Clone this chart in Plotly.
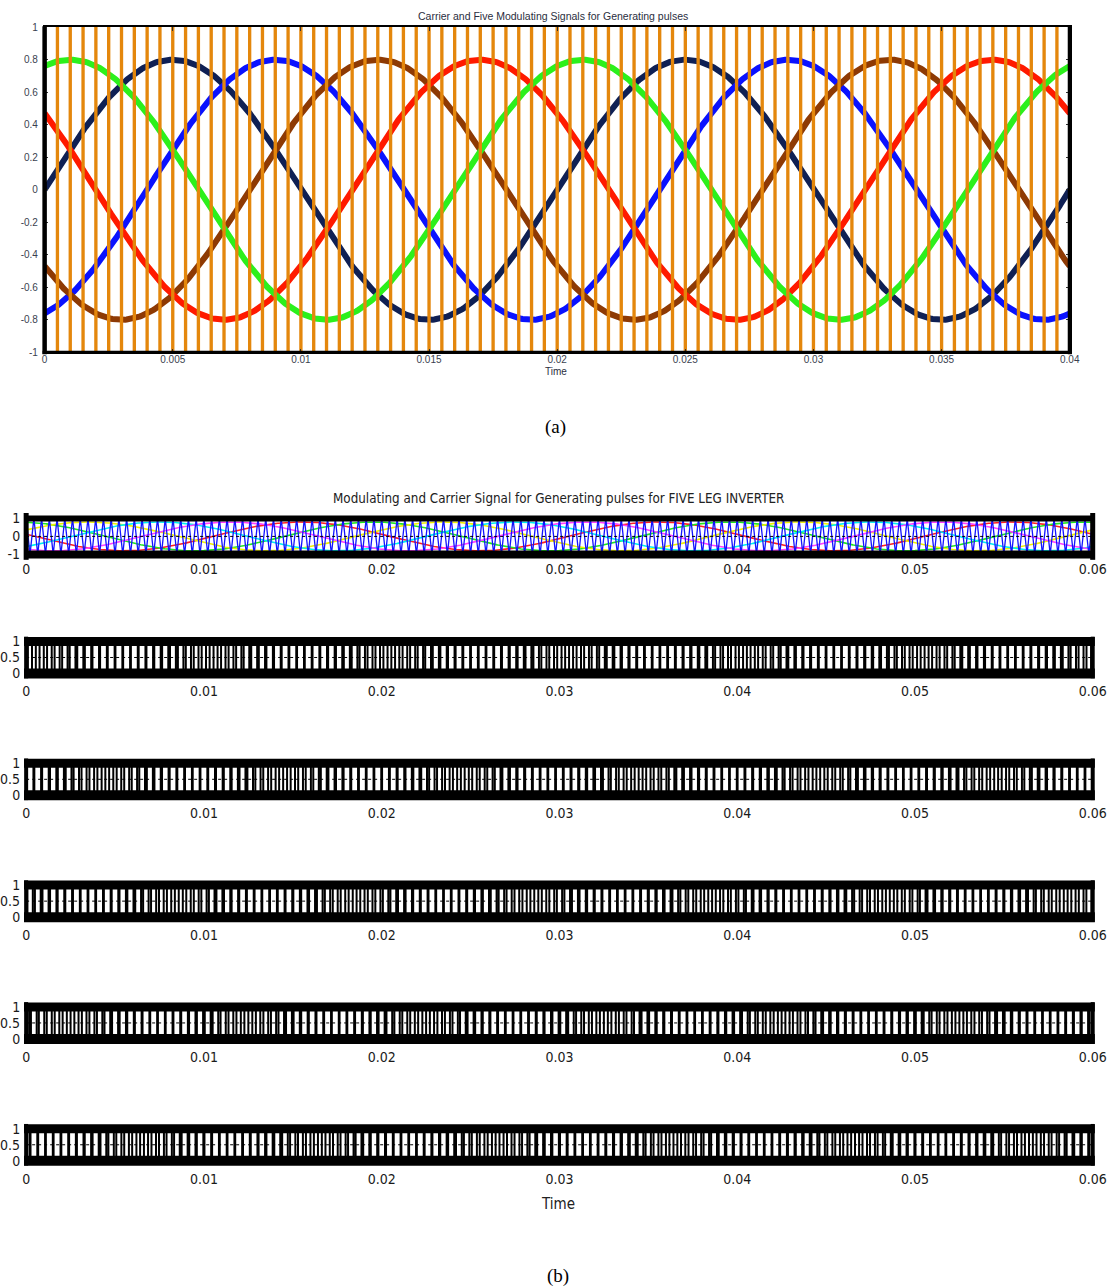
import numpy as np
import plotly.graph_objects as go

# target picture size and observed page->picture scale of the capture
W, H = 1112, 1287
SX, SY = 0.979, 0.987
MARGIN = 8                                  # default body margin of the page
FW = int(round(W / SX)) - 2 * MARGIN
FH = int(round(H / SY)) - 2 * MARGIN

# ---------------- data : chart (a) ----------------
a_time_end = 0.04
a_mod_amplitude = 0.8
a_mod_freq = 50.0                      # Hz
a_mod_names = ['navy', 'blue', 'brown', 'red', 'green']
a_mod_peak_times = [0.005, 0.009, 0.013, 0.017, 0.001]
a_mod_colors = ['#0f2054', '#0a12ff', '#8e3a04', '#ff1a00', '#2cf01c']
a_carrier_spacing = 0.0005             # s between carrier strokes
a_carrier_color = '#e4870c'
a_xticks = [0, 0.005, 0.01, 0.015, 0.02, 0.025, 0.03, 0.035, 0.04]
a_xticklabels = ['0', '0.005', '0.01', '0.015', '0.02', '0.025', '0.03', '0.035', '0.04']
a_yticks = [1, 0.8, 0.6, 0.4, 0.2, 0, -0.2, -0.4, -0.6, -0.8, -1]
a_yticklabels = ['1', '0.8', '0.6', '0.4', '0.2', '0', '-0.2', '-0.4', '-0.6', '-0.8', '-1']

# ---------------- data : chart (b) ----------------
b_time_end = 0.06
b_mod_amplitude = 0.8
b_mod_freq = 50.0
b_mod_peak_times = [0.0155, -0.0005, 0.0035, 0.0075, 0.0115]   # legs 1..5
b_mod_colors = ['#ff2020', '#20e620', '#f0f000', '#00eef0', '#ff40ff']
b_carrier_freq = 2300.0                # Hz
b_carrier_color = '#1414ff'
b_xticks = [0, 0.01, 0.02, 0.03, 0.04, 0.05, 0.06]
b_xticklabels = ['0', '0.01', '0.02', '0.03', '0.04', '0.05', '0.06']
b_top_yticks = [1, 0, -1]
b_top_yticklabels = ['1', '0', '-1']
b_pulse_yticks = [1, 0.5, 0]
b_pulse_yticklabels = ['1', '0.5', '0']

NARROW = 'Liberation Sans Narrow, DejaVu Sans Condensed, Arial Narrow, sans-serif'
ARIAL = 'Liberation Sans, Arial, sans-serif'
SERIF = 'Liberation Serif, Times New Roman, serif'


def fx(x):          # picture px -> figure px
    return x / SX - MARGIN


def fy(y):
    return y / SY - MARGIN


def xdom(l, r):
    return [fx(l) / FW, fx(r) / FW]


def ydom(top, bottom):
    return [1 - fy(bottom) / FH, 1 - fy(top) / FH]


def px_x(x):
    return fx(x) / FW


def px_y(y):
    return 1 - fy(y) / FH


def modulating(t, amp, f, tp):
    return amp * np.cos(2 * np.pi * f * (t - tp))


def carrier_b(t):
    ph = (t * b_carrier_freq) % 1.0
    return 4 * np.abs(ph - 0.5) - 1


def label(text, x, y, family, size, color):
    return dict(text=text, x=px_x(x), y=px_y(y), xref='paper', yref='paper', showarrow=False,
                xanchor='center', yanchor='middle', font=dict(family=family, size=size, color=color))


fig = go.Figure()
shapes = []
annotations = []
layout = {}

# ======================= chart (a) =======================
t_a = np.linspace(0, a_time_end, 801)
for tp, col in zip(a_mod_peak_times, a_mod_colors):
    fig.add_trace(go.Scatter(x=t_a, y=modulating(t_a, a_mod_amplitude, a_mod_freq, tp),
                             mode='lines', line=dict(color=col, width=6),
                             xaxis='x', yaxis='y', hoverinfo='skip'))

tk = np.arange(1, int(round(a_time_end / a_carrier_spacing)) + 1) * a_carrier_spacing
d = 0.00003
cx = [0.0]
cy = [-1.0]
for t in tk:
    cx += [t - d, t - d, t + d, t + d]
    cy += [-1, 1, 1, -1]
fig.add_trace(go.Scatter(x=cx, y=cy, mode='lines', line=dict(color=a_carrier_color, width=1.8),
                         xaxis='x', yaxis='y', hoverinfo='skip'))

layout['xaxis'] = dict(domain=xdom(41.5, 1068), range=[0, a_time_end], anchor='y',
                       tickvals=a_xticks, ticktext=a_xticklabels, ticks='inside', ticklen=4,
                       tickcolor='#333', showline=True, linecolor='black', linewidth=1.5,
                       mirror='ticks', showgrid=False, zeroline=False,
                       tickfont=dict(family=ARIAL, size=10, color='#3a3f50'),
                       ticklabelstandoff=-3)
layout['yaxis'] = dict(domain=ydom(27, 352), range=[-1, 1], anchor='x',
                       tickvals=a_yticks, ticktext=a_yticklabels, ticks='inside', ticklen=4,
                       tickcolor='#333', showline=True, linecolor='black', linewidth=1.5,
                       mirror='ticks', showgrid=False, zeroline=False,
                       tickfont=dict(family=ARIAL, size=10, color='#3a3f50'),
                       ticklabelstandoff=3)
shapes.append(dict(type='line', xref='x domain', yref='y domain', x0=0, x1=0, y0=-0.006, y1=1.003,
                   line=dict(color='black', width=4.5), layer='above'))
shapes.append(dict(type='line', xref='x domain', yref='y domain', x0=1, x1=1, y0=-0.006, y1=1.003,
                   line=dict(color='black', width=4), layer='above'))
shapes.append(dict(type='line', xref='x domain', yref='y domain', x0=-0.002, x1=1.002, y0=0, y1=0,
                   line=dict(color='black', width=3), layer='above'))

annotations.append(label('Carrier and Five Modulating Signals for Generating pulses', 551, 16,
                         ARIAL, 10.5, '#2a2e40'))
annotations.append(label('Time', 554, 371, ARIAL, 10, '#2a2e40'))
annotations.append(label('(a)', 553, 427, SERIF, 19, 'black'))

# ======================= chart (b) =======================
t_b = np.linspace(0, b_time_end, 1201)
t_fine = np.linspace(0, b_time_end, 600001)
c_fine = carrier_b(t_fine)

for tp, col in zip(b_mod_peak_times, b_mod_colors):
    fig.add_trace(go.Scatter(x=t_b, y=modulating(t_b, b_mod_amplitude, b_mod_freq, tp),
                             mode='lines', line=dict(color=col, width=1.6),
                             xaxis='x2', yaxis='y2', hoverinfo='skip'))
xc = np.arange(0, b_time_end + 1e-12, 0.5 / b_carrier_freq)
xc = np.append(xc, b_time_end)
fig.add_trace(go.Scatter(x=xc, y=carrier_b(xc), mode='lines',
                         line=dict(color=b_carrier_color, width=1.3),
                         xaxis='x2', yaxis='y2', hoverinfo='skip'))
fig.add_trace(go.Scatter(x=[0, b_time_end], y=[0, 0], mode='lines',
                         line=dict(color='black', width=1, dash='3px,3px'),
                         xaxis='x2', yaxis='y2', hoverinfo='skip'))

xb_dom = xdom(23, 1091)
tick_common = dict(tickfont=dict(family=NARROW, size=14, color='#1a1a1a'), showgrid=False,
                   zeroline=False, showline=False)
layout['xaxis2'] = dict(domain=xb_dom, range=[0, b_time_end], anchor='y2', tickvals=b_xticks,
                        ticktext=b_xticklabels, ticks='', ticklabelstandoff=5, **tick_common)
layout['yaxis2'] = dict(domain=ydom(518, 554), range=[-1, 1], anchor='x2', tickvals=b_top_yticks,
                        ticktext=b_top_yticklabels, ticks='', ticklabelstandoff=5, **tick_common)


def frame(xr, yr, top_w, bot_w, side_w):
    shapes.append(dict(type='line', xref=xr + ' domain', yref=yr + ' domain', x0=0, x1=0,
                       y0=-0.15, y1=1.15, line=dict(color='black', width=side_w), layer='above'))
    shapes.append(dict(type='line', xref=xr + ' domain', yref=yr + ' domain', x0=1, x1=1,
                       y0=-0.15, y1=1.15, line=dict(color='black', width=side_w), layer='above'))
    shapes.append(dict(type='line', xref=xr + ' domain', yref=yr + ' domain', x0=-0.002, x1=1.002,
                       y0=1, y1=1, line=dict(color='black', width=top_w), layer='above'))
    shapes.append(dict(type='line', xref=xr + ' domain', yref=yr + ' domain', x0=-0.002, x1=1.002,
                       y0=0, y1=0, line=dict(color='black', width=bot_w), layer='above'))


frame('x2', 'y2', 6, 8, 5)

for j, tp in enumerate(b_mod_peak_times):
    k = j + 3
    xa, ya = 'x%d' % k, 'y%d' % k
    m_fine = modulating(t_fine, b_mod_amplitude, b_mod_freq, tp)
    p = (m_fine > c_fine).astype(int)
    idx = np.nonzero(np.diff(p))[0] + 1
    px = np.concatenate([[0.0], t_fine[idx], [b_time_end]])
    py = np.concatenate([[p[0]], p[idx], [p[-1]]])
    fig.add_trace(go.Scatter(x=px, y=py, mode='lines', line=dict(color='black', width=2, shape='hv'),
                             xaxis=xa, yaxis=ya, hoverinfo='skip'))
    fig.add_trace(go.Scatter(x=[0, b_time_end], y=[0.5, 0.5], mode='lines',
                             line=dict(color='black', width=1, dash='3px,3px'),
                             xaxis=xa, yaxis=ya, hoverinfo='skip'))
    B = 678 + 121.75 * j
    layout['xaxis%d' % k] = dict(domain=xb_dom, range=[0, b_time_end], anchor=ya, tickvals=b_xticks,
                                 ticktext=b_xticklabels, ticks='', ticklabelstandoff=8, **tick_common)
    layout['yaxis%d' % k] = dict(domain=ydom(B - 37, B - 5), range=[0, 1], anchor=xa,
                                 tickvals=b_pulse_yticks, ticktext=b_pulse_yticklabels, ticks='',
                                 ticklabelstandoff=5, **tick_common)
    frame(xa, ya, 9, 10, 4)

annotations.append(label('Modulating and Carrier Signal for Generating pulses for FIVE LEG INVERTER',
                         556, 498, NARROW, 13.3, '#222'))
annotations.append(label('Time', 556, 1203, NARROW, 15, '#222'))
annotations.append(label('(b)', 556, 1275, SERIF, 19, 'black'))

fig.update_layout(width=FW, height=FH, margin=dict(l=0, r=0, t=0, b=0), showlegend=False,
                  plot_bgcolor='white', paper_bgcolor='white', shapes=shapes,
                  annotations=annotations, **layout)

fig.write_html('out.html')
